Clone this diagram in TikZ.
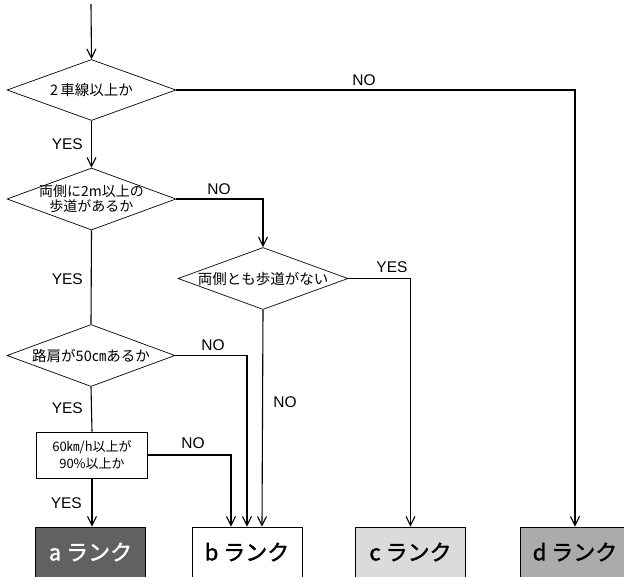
\documentclass[tikz,border=0pt]{standalone}
\usepackage{fontspec}
\setmainfont{Liberation Sans}
\newfontfamily\jp{Noto Sans CJK JP}
\newfontfamily\jpb[FakeBold=1.5]{Noto Sans CJK JP}
\usetikzlibrary{shapes.geometric,arrows.meta}
\tikzset{
  dia/.style={shape=diamond, draw, line width=0.7pt, inner sep=0pt, font=\jp\fontsize{14.5}{16}\selectfont, align=center},
  qbox/.style={draw, line width=0.8pt, minimum width=111pt, minimum height=46pt, inner sep=0pt, font=\jp\fontsize{13}{17}\selectfont, align=center},
  rank/.style={draw, line width=0.8pt, minimum width=110pt, minimum height=50pt, inner sep=0pt, font=\jpb\fontsize{22}{24}\selectfont},
  conn/.style={line width=1.1pt},
  arr/.style={line width=1.1pt, -{Straight Barb[length=9pt,width=9pt,line width=1.1pt]}},
  lab/.style={font=\fontsize{15.5}{17}\selectfont, inner sep=0pt}
}
\begin{document}
\begin{tikzpicture}[x=1pt,y=-1pt]
\clip (0,0) rectangle (624,576);
\fill[white] (0,0) rectangle (624,576);
% decisions
\node[dia, aspect=2.77, minimum width=169pt, minimum height=61pt] (d1) at (91.5,90) {2\,車線以上か};
\node[dia, aspect=2.73, minimum width=169pt, minimum height=62pt, inner sep=-9pt, font=\jp\fontsize{14}{15.5}\selectfont] (d2) at (91.5,199) {両側に2m以上の\\歩道があるか};
\node[dia, aspect=2.74, minimum width=170pt, minimum height=62pt] (d3) at (263,278.5) {両側とも歩道がない};
\node[dia, aspect=2.71, minimum width=168pt, minimum height=62pt] (d4) at (91,355.5) {路肩が50㎝あるか};
\node[qbox] (q5) at (92,455) {60㎞/h以上が\\90\%以上か};
% ranks
\node[rank, fill=black!62, text=white] (ra) at (90.5,552) {a ランク};
\node[rank, fill=white] (rb) at (247,552) {b ランク};
\node[rank, fill=black!14] (rc) at (410.5,552) {c ランク};
\node[rank, fill=black!33] (rd) at (575,552) {d ランク};
% start
\coordinate (start) at (91,4);
\draw[arr] (start) -- (d1.north);
% connectors
\draw[arr] (d1.south) -- (d2.north);
\draw[arr] (d1.east) -| (rd.north);
\draw[arr] (d2.east) -| (d3.north);
\draw[conn] (d2.south) -- (d4.north);
\draw[arr] (d3.east) -| (rc.north);
\draw[arr] (d3.south) -- ([xshift=15pt]rb.north);
\draw[arr] (d4.east) -| (rb.north);
\draw[conn] (d4.south) -- (q5.north);
\draw[arr] (q5.east) -| ([xshift=-16pt]rb.north);
\draw[arr] (q5.south) -- (ra.north -| q5.south);
% labels
\node[lab, anchor=east] (l1) at (83,144) {YES};
\node[lab] (l2) at (364,80) {NO};
\node[lab] (l3) at (219,189) {NO};
\node[lab, anchor=east] (l4) at (83,279) {YES};
\node[lab] (l5) at (392,267) {YES};
\node[lab] (l6) at (213,345) {NO};
\node[lab, anchor=east] (l7) at (83,408) {YES};
\node[lab] (l8) at (285,402) {NO};
\node[lab] (l9) at (193,443) {NO};
\node[lab, anchor=east] (l10) at (82,503) {YES};
\end{tikzpicture}
\end{document}
